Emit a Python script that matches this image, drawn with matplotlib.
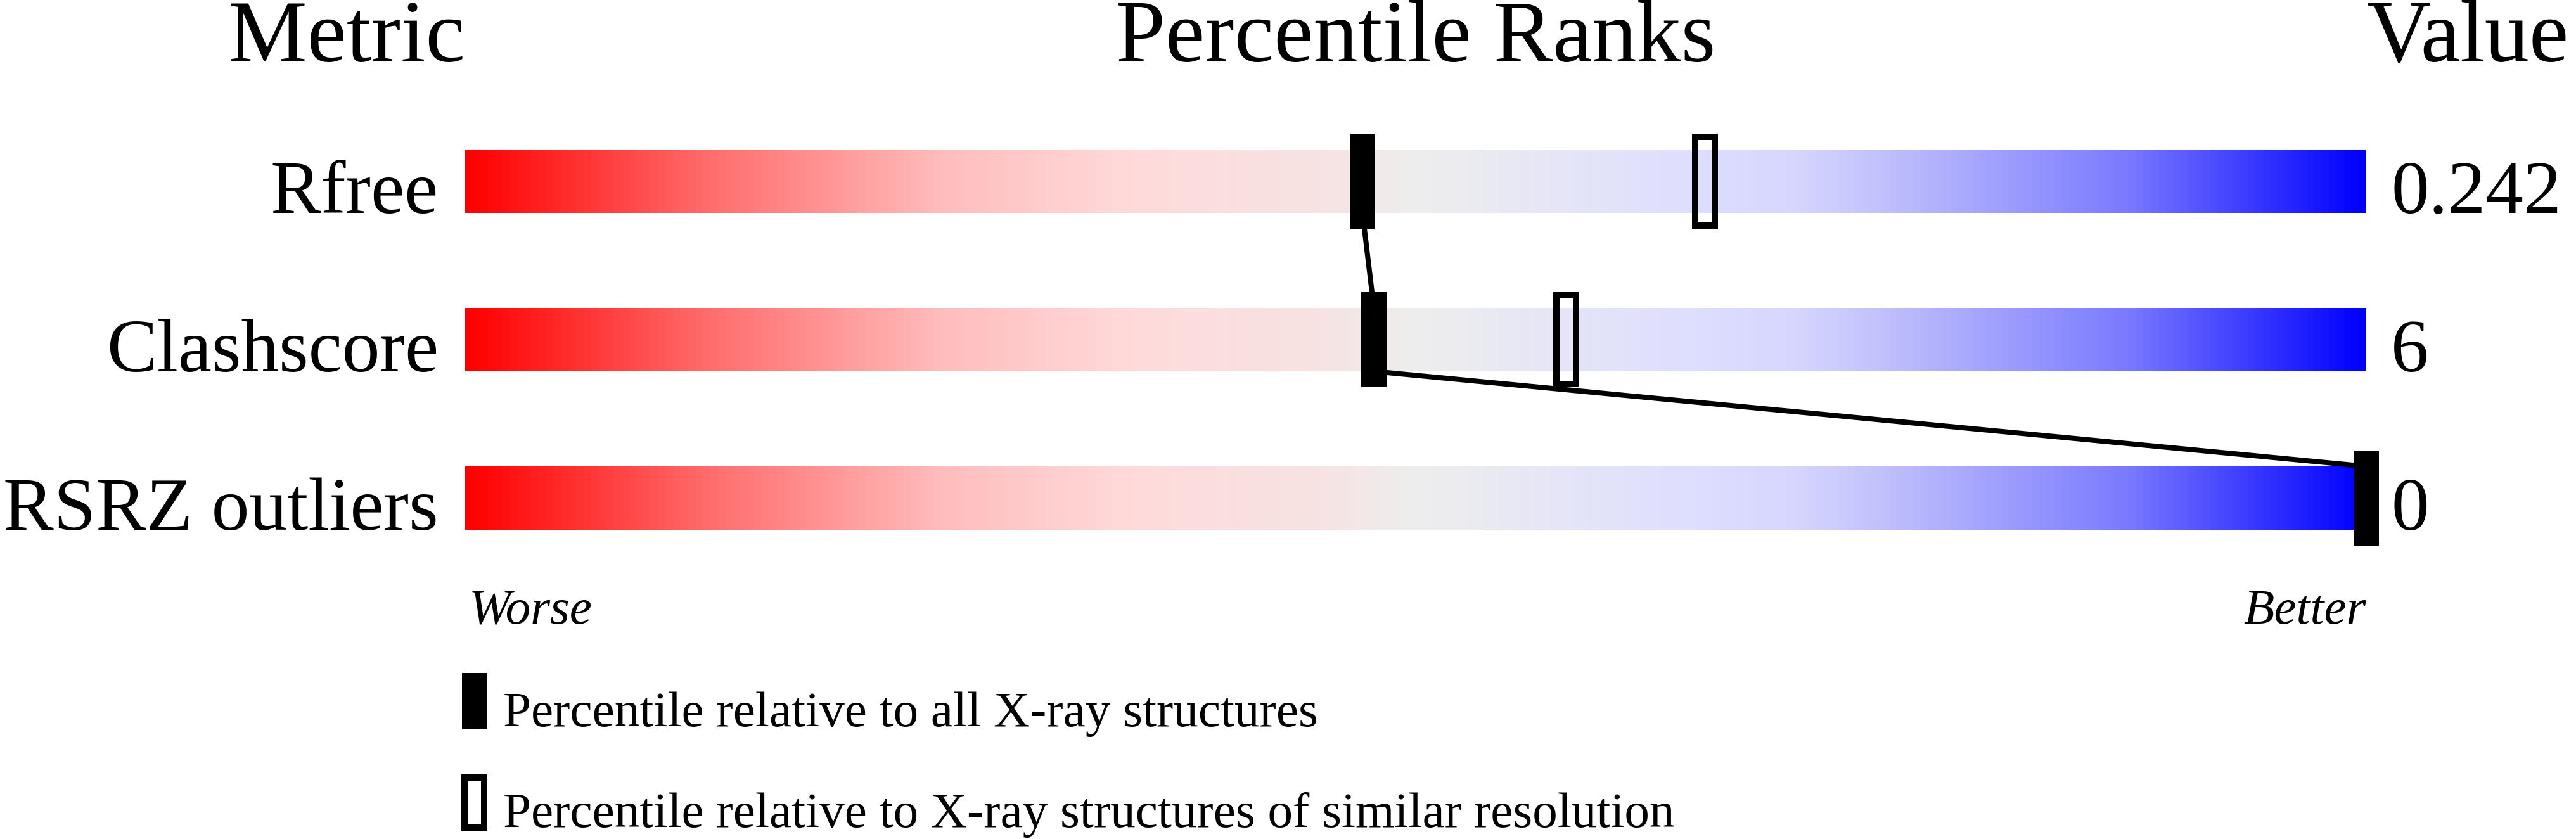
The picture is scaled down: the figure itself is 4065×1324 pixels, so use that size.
import numpy as np
import matplotlib
matplotlib.use('Agg')
import matplotlib.pyplot as plt
from matplotlib.colors import LinearSegmentedColormap
from matplotlib.patches import Rectangle

# Datos del gráfico
metrics = ['Rfree', 'Clashscore', 'RSRZ outliers']
values = ['0.242', '6', '0']
pct_all = [47.2, 47.8, 100]
pct_similar = [65.2, 57.9, np.nan]

legend_all = 'Percentile relative to all X-ray structures'
legend_similar = 'Percentile relative to X-ray structures of similar resolution'

plt.rcParams['font.family'] = ['Liberation Serif', 'DejaVu Serif']

W, H = 4066, 1324
fig = plt.figure(figsize=(W / 100, H / 100), dpi=100)

# Eje: x en percentiles (barra de 734 a 3734 px), y en filas
ax = fig.add_axes([734 / W, 0, 3000 / W, 1])
ax.set_xlim(0, 100)
ax.set_ylim((H - 286) / 250, -286 / 250)
ax.axis('off')

# Degradado rojo -> gris -> azul
cmap = LinearSegmentedColormap.from_list('slider', [
    (0.0, (1, 0, 0)),
    (0.125, (1, 0.42, 0.42)),
    (0.25, (1, 0.74, 0.74)),
    (0.35, (1, 0.855, 0.855)),
    (0.45, (0.97, 0.89, 0.89)),
    (0.5, (0.933, 0.933, 0.933)),
    (0.6, (0.89, 0.89, 0.98)),
    (0.65, (0.87, 0.87, 1)),
    (0.7, (0.84, 0.84, 1)),
    (0.75, (0.75, 0.75, 0.99)),
    (0.875, (0.48, 0.48, 1)),
    (1.0, (0, 0, 1)),
])
grad = np.linspace(0, 1, 1024).reshape(1, -1)

bar_h = 0.4
mk_h = 0.6
mk_w = 40 / 30

for i, name in enumerate(metrics):
    ax.imshow(grad, cmap=cmap, aspect='auto', interpolation='bilinear',
              extent=[0, 100, i + bar_h / 2, i - bar_h / 2], zorder=1)
    ax.text(-1.4, i + bar_h / 2, name, ha='right', va='baseline', fontsize=86)
    ax.text(101.3, i + bar_h / 2, values[i], ha='left', va='baseline', fontsize=86)

# Líneas entre los marcadores negros
for i in range(len(metrics) - 1):
    ax.plot([pct_all[i], pct_all[i + 1]], [i + bar_h / 2, i + 1 - bar_h / 2],
            color='black', lw=5.8, solid_capstyle='butt', zorder=2, clip_on=False)

# Marcadores
for i in range(len(metrics)):
    ax.add_patch(Rectangle((pct_all[i] - mk_w / 2, i - mk_h / 2), mk_w, mk_h,
                           facecolor='black', edgecolor='none', zorder=3, clip_on=False))
    if not np.isnan(pct_similar[i]):
        ax.add_patch(Rectangle((pct_similar[i] - 31 / 60, i - 0.28), 31 / 30, 0.56,
                               facecolor='none', edgecolor='black', lw=7.2, zorder=3,
                               clip_on=False))

# Títulos
ty = (97 - 286) / 250
ax.text(0, ty, 'Metric', ha='right', va='baseline', fontsize=101)
ax.text(50, ty, 'Percentile Ranks', ha='center', va='baseline', fontsize=101)
ax.text(100, ty, 'Value', ha='left', va='baseline', fontsize=101)

# Worse / Better
wy = (984 - 286) / 250
ax.text(0.2, wy, 'Worse', ha='left', va='baseline', fontsize=57, style='italic')
ax.text(100, wy, 'Better', ha='right', va='baseline', fontsize=57, style='italic')

# Leyenda
ax.add_patch(Rectangle((0.5 - mk_w / 2, (1062 - 286) / 250), mk_w, 89 / 250,
                       facecolor='black', edgecolor='none', clip_on=False))
ax.text(2.0, (1146 - 286) / 250, legend_all, ha='left', va='baseline', fontsize=57)
ax.add_patch(Rectangle((0.5 - 31 / 60, (1227 - 286) / 250), 31 / 30, 79 / 250,
                       facecolor='none', edgecolor='black', lw=7.2, clip_on=False))
ax.text(2.0, (1305 - 286) / 250, legend_similar, ha='left', va='baseline', fontsize=57)

plt.savefig('out.png', dpi=100, facecolor='white')
